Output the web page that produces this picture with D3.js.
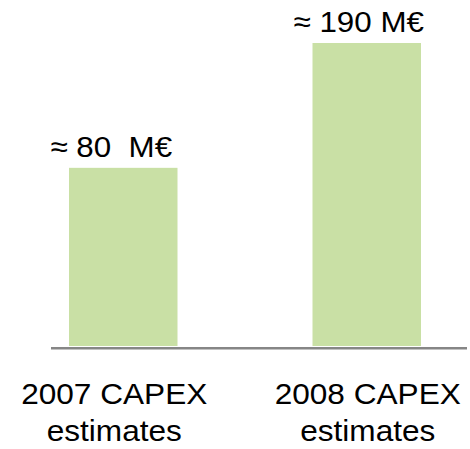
<!DOCTYPE html>
<html>
<head>
<meta charset="utf-8">
<script src="https://cdn.jsdelivr.net/npm/d3@7/dist/d3.min.js"></script>
<style>
  html, body { margin: 0; padding: 0; background: #ffffff; }
  svg { display: block; }
  text { font-family: "Liberation Sans", Arial, Helvetica, sans-serif; fill: #000; }
</style>
</head>
<body>
<svg id="chart" width="470" height="449"></svg>
<script>
// ---- data ----
const categories = ["2007 CAPEX estimates", "2008 CAPEX estimates"];
const categoryLines = [["2007 CAPEX", "estimates"], ["2008 CAPEX", "estimates"]];
const values = [80, 190];
const valueLabels = ["≈ 80  M€", "≈ 190 M€"];

// ---- layout ----
const W = 470, H = 449;
const baseline = 346;
const svg = d3.select("#chart");

const x = d3.scaleBand()
  .domain(categories)
  .range([-66, 556])
  .padding(0.5544);

// value axis (baseline not at zero in the original drawing)
const y = d3.scaleLinear()
  .domain([-77, 190])
  .range([baseline, 43]);

const valueShift = [-12, -8];
const catShift = [-9, 1];

// bars
svg.append("g").selectAll("rect")
  .data(values)
  .join("rect")
  .attr("x", (d, i) => x(categories[i]))
  .attr("width", x.bandwidth())
  .attr("y", d => y(d))
  .attr("height", d => baseline - y(d))
  .attr("fill", "#c9e0a5");

// baseline axis line
svg.append("line")
  .attr("x1", 51).attr("x2", 467)
  .attr("y1", baseline + 2.2).attr("y2", baseline + 2.2)
  .attr("stroke", "#868686")
  .attr("stroke-width", 2.6);

// value labels
svg.append("g").selectAll("text")
  .data(values)
  .join("text")
  .attr("transform", (d, i) => {
    const cx = x(categories[i]) + x.bandwidth() / 2 + valueShift[i];
    return `translate(${cx},${y(d) - 11}) scale(1.045,1)`;
  })
  .attr("text-anchor", "middle")
  .style("font-size", "30px")
  .style("white-space", "pre")
  .attr("xml:space", "preserve")
  .text((d, i) => valueLabels[i]);

// category labels
const cg = svg.append("g").selectAll("g")
  .data(categories)
  .join("g")
  .attr("transform", (d, i) => `translate(${x(d) + x.bandwidth() / 2 + catShift[i]},0)`);

cg.each(function (d, i) {
  d3.select(this).selectAll("text")
    .data(categoryLines[i])
    .join("text")
    .attr("transform", (t, j) => `translate(0,${403.5 + j * 37.5}) scale(1.09,1)`)
    .attr("text-anchor", "middle")
    .style("font-size", "29px")
    .text(t => t);
});
</script>
</body>
</html>
